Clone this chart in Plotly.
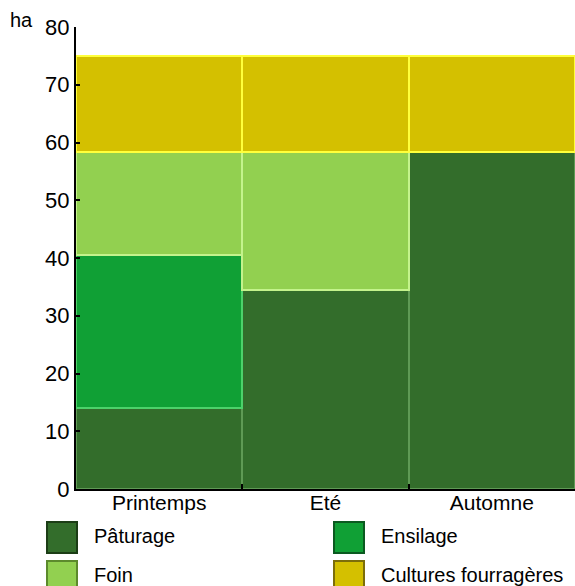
import plotly.graph_objects as go

# données (ha)
saisons = ['Printemps', 'Eté', 'Automne']
paturage = [14.0, 34.5, 58.3]
ensilage = [26.5, None, None]
foin = [17.8, 23.8, None]
cultures = [16.7, 16.7, 16.7]
y_ticks = [0, 10, 20, 30, 40, 50, 60, 70, 80]

series = [
    ('Pâturage', paturage, '#336d2b', '#5f9a55', '#1c3d16'),
    ('Ensilage', ensilage, '#10a035', '#4cd26a', '#0b5a20'),
    ('Foin', foin, '#92d050', '#c4f38c', '#5c8a2c'),
    ('Cultures fourragères', cultures, '#d4c000', '#ffff3c', '#7c6e0a'),
]

W, H = 575, 586
L, R, T, B = 76, 0, 27, 97
pw, ph = W - L - R, H - T - B

fig = go.Figure()
for name, vals, col, edge, _ in series:
    fig.add_trace(go.Bar(
        x=saisons, y=vals, name=name,
        marker=dict(color=col, line=dict(color=edge, width=2)),
        showlegend=False,
    ))

fig.update_layout(
    barmode='stack', bargap=0,
    width=W, height=H,
    margin=dict(l=L, r=R, t=T, b=B),
    plot_bgcolor='white', paper_bgcolor='white',
    font=dict(family='Liberation Sans, Arial, sans-serif', size=20, color='black'),
)
fig.update_yaxes(
    range=[0, 80], tickvals=y_ticks, showgrid=False, zeroline=False,
    showline=True, linecolor='black', linewidth=2,
    ticks='inside', ticklen=4, tickwidth=2, tickcolor='black',
    tickfont=dict(size=22),
)
fig.update_xaxes(
    range=[-0.5, 2.5], showgrid=False,
    showline=True, linecolor='black', linewidth=2,
    ticks='inside', tickson='boundaries', ticklen=5, tickwidth=2, tickcolor='black',
    tickfont=dict(size=21), ticklabelstandoff=-6,
)

# unité
fig.add_annotation(text='ha', xref='paper', yref='paper',
                   x=(8 - L) / pw, y=(H - B - 20) / ph,
                   xanchor='left', yanchor='middle', showarrow=False,
                   font=dict(size=20))

# légende (2 colonnes)
def px(x):
    return (x - L) / pw

def py(y):
    return (H - B - y) / ph

pos = [(47, 522), (334, 522), (47, 561), (334, 561)]
for (name, _, col, _, dark), (x0, y0) in zip(series, pos):
    fig.add_shape(type='rect', xref='paper', yref='paper',
                  x0=px(x0), x1=px(x0 + 30), y0=py(y0), y1=py(y0 + 31),
                  fillcolor=col, line=dict(color=dark, width=2))
    fig.add_annotation(text=name, xref='paper', yref='paper',
                       x=px(x0 + 45), y=py(y0 + 14),
                       xanchor='left', yanchor='middle', showarrow=False,
                       font=dict(size=20))

fig.write_html('out.html', config={'displayModeBar': False},
               post_script="document.body.style.margin='0';")
